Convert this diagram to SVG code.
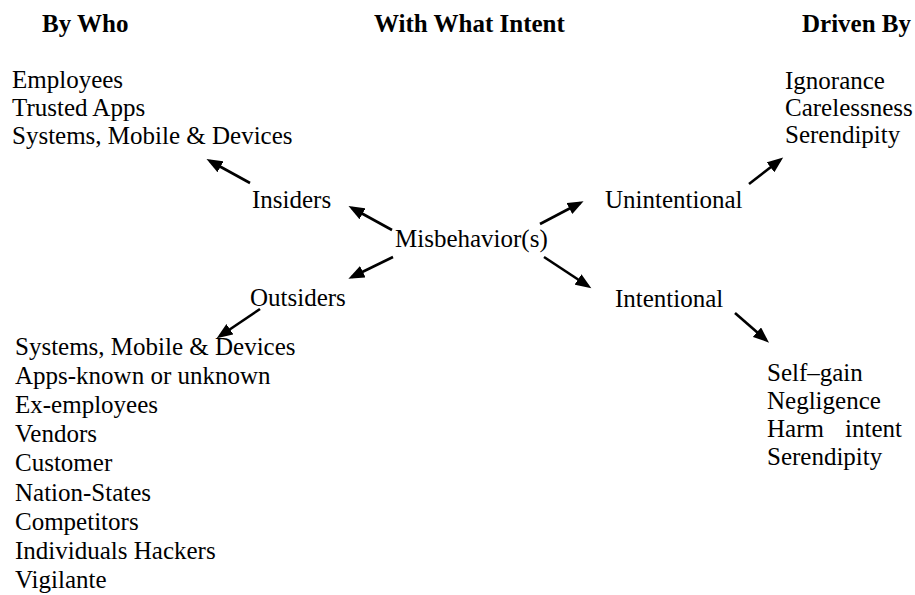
<svg xmlns="http://www.w3.org/2000/svg" width="915" height="595" viewBox="0 0 915 595">
  <style>
    text { font-family: "Liberation Serif", "Times New Roman", serif; font-size: 25px; fill: #000; }
    .hdr { font-weight: bold; }
    .conn line { stroke: #000; stroke-width: 2.6; marker-end: url(#arrow); }
  </style>
  <defs>
    <marker id="arrow" markerUnits="userSpaceOnUse" markerWidth="17" markerHeight="13" refX="12" refY="6.25" orient="auto" viewBox="0 0 17 13">
      <path d="M0,0 L16,6.25 L0,12.5 z" fill="#000"/>
    </marker>
  </defs>
  <rect width="915" height="595" fill="#fff"/>

  <g id="headers">
    <text class="hdr" x="42" y="32">By Who</text>
    <text class="hdr" x="374" y="32">With What Intent</text>
    <text class="hdr" x="802" y="32">Driven By</text>
  </g>

  <g id="insider-list">
    <text x="12" y="88">Employees</text>
    <text x="12" y="116">Trusted Apps</text>
    <text x="12" y="144">Systems, Mobile &amp; Devices</text>
  </g>

  <g id="insiders"><text x="252" y="208">Insiders</text></g>
  <g id="misbehaviors"><text x="395" y="247">Misbehavior(s)</text></g>
  <g id="outsiders"><text x="250" y="306">Outsiders</text></g>
  <g id="unintentional"><text x="605" y="208">Unintentional</text></g>
  <g id="intentional"><text x="615" y="307">Intentional</text></g>

  <g id="unintentional-drivers">
    <text x="785" y="89">Ignorance</text>
    <text x="785" y="116">Carelessness</text>
    <text x="785" y="143">Serendipity</text>
  </g>

  <g id="outsider-list">
    <text x="15" y="355">Systems, Mobile &amp; Devices</text>
    <text x="15" y="384">Apps-known or unknown</text>
    <text x="15" y="413">Ex-employees</text>
    <text x="15" y="442">Vendors</text>
    <text x="15" y="471">Customer</text>
    <text x="15" y="501">Nation-States</text>
    <text x="15" y="530">Competitors</text>
    <text x="15" y="559">Individuals Hackers</text>
    <text x="15" y="588">Vigilante</text>
  </g>

  <g id="intentional-drivers">
    <text x="767" y="381">Self–gain</text>
    <text x="767" y="409">Negligence</text>
    <text y="437"><tspan x="767">Harm</tspan><tspan x="845">intent</tspan></text>
    <text x="767" y="465">Serendipity</text>
  </g>

  <g id="connectors" class="conn">
    <line x1="250" y1="183" x2="210" y2="161"/>
    <line x1="392" y1="230" x2="352" y2="208"/>
    <line x1="393" y1="257" x2="352" y2="277"/>
    <line x1="260" y1="309" x2="220" y2="336"/>
    <line x1="540" y1="224" x2="580" y2="203"/>
    <line x1="544" y1="257" x2="588" y2="286"/>
    <line x1="749" y1="184" x2="780" y2="160"/>
    <line x1="735" y1="313" x2="766" y2="340"/>
  </g>
</svg>
